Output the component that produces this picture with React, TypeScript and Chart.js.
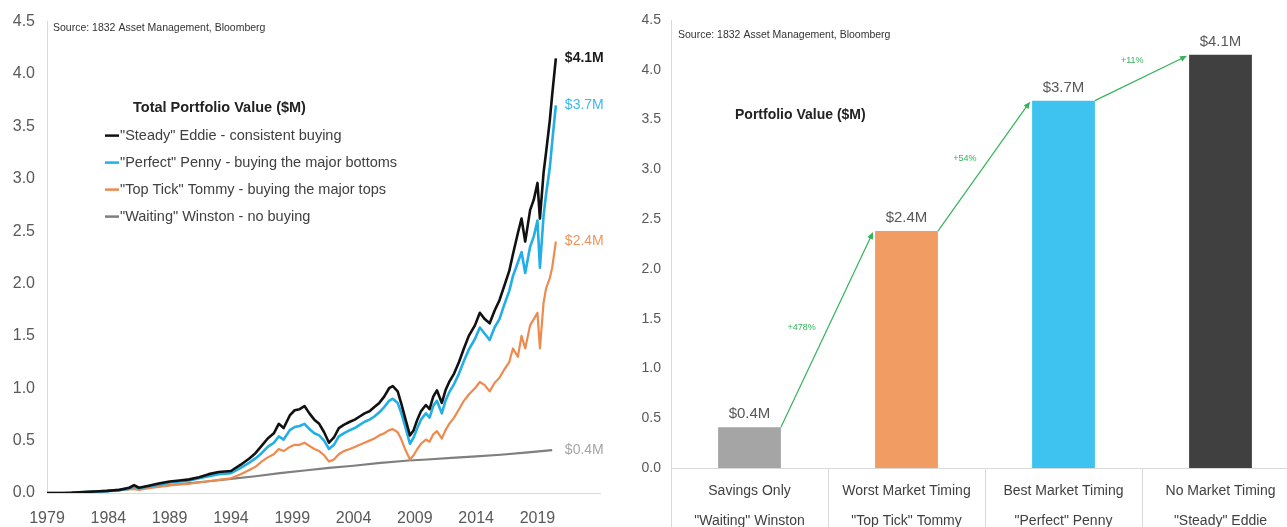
import React, { useEffect, useRef } from 'react';
import { Chart, registerables } from 'chart.js';

Chart.register(...registerables);

const FONT = '"Liberation Sans", Arial, sans-serif';

// ---------- Left chart data ----------
const years = [
  1979.0, 1980.0, 1981.0, 1981.9, 1982.9, 1983.9, 1984.9, 1985.7, 1986.1, 1986.5,
  1987.3, 1988.1, 1989.0, 1989.8, 1990.6, 1991.4, 1992.2, 1993.0, 1994.0, 1994.8,
  1995.5, 1996.0, 1996.5, 1997.0, 1997.5, 1997.9, 1998.3, 1998.8, 1999.2, 1999.6,
  2000.0, 2000.4, 2000.8, 2001.2, 2001.6, 2002.0, 2002.4, 2002.8, 2003.2, 2003.7,
  2004.1, 2004.5, 2004.9, 2005.3, 2005.7, 2006.1, 2006.5, 2006.9, 2007.2, 2007.6,
  2007.9, 2008.2, 2008.6, 2008.9, 2009.2, 2009.5, 2009.9, 2010.2, 2010.5, 2010.8,
  2011.2, 2011.5, 2011.8, 2012.2, 2012.6, 2013.0, 2013.4, 2013.9, 2014.3, 2014.7,
  2015.1, 2015.5, 2015.9, 2016.3, 2016.7, 2017.0, 2017.4, 2017.7, 2018.0, 2018.4,
  2018.7, 2019.0, 2019.2, 2019.5, 2019.7, 2020.0, 2020.2, 2020.5,
];

const eddie = [
  0, 0, 0.002, 0.008, 0.014, 0.02, 0.03, 0.05, 0.075, 0.05,
  0.07, 0.09, 0.11, 0.12, 0.13, 0.15, 0.18, 0.2, 0.21, 0.27,
  0.33, 0.38, 0.45, 0.52, 0.57, 0.66, 0.62, 0.74, 0.79, 0.8,
  0.83, 0.76, 0.7, 0.66, 0.58, 0.48, 0.53, 0.62, 0.65, 0.68,
  0.7, 0.73, 0.76, 0.78, 0.82, 0.86, 0.92, 1.0, 1.02, 0.97,
  0.85, 0.72, 0.55, 0.6, 0.7, 0.78, 0.84, 0.8, 0.92, 0.98,
  0.86, 0.98, 1.06, 1.14, 1.25, 1.38, 1.5, 1.6, 1.72, 1.66,
  1.62, 1.74, 1.84, 1.98, 2.12, 2.28, 2.48, 2.62, 2.4, 2.7,
  2.8, 2.96, 2.62, 3.06, 3.25, 3.55, 3.8, 4.15,
];

const penny = [
  0, 0, 0.002, 0.007, 0.012, 0.017, 0.026, 0.042, 0.062, 0.045,
  0.062, 0.08, 0.1, 0.11, 0.12, 0.14, 0.16, 0.18, 0.19, 0.24,
  0.29, 0.33, 0.38, 0.44, 0.48, 0.54, 0.51, 0.6, 0.63, 0.64,
  0.66, 0.61, 0.57, 0.55, 0.5, 0.42, 0.46, 0.54, 0.57, 0.6,
  0.62, 0.65, 0.68, 0.7, 0.73, 0.77, 0.82, 0.88, 0.9, 0.86,
  0.76, 0.64, 0.47, 0.53, 0.62, 0.7, 0.76, 0.72, 0.83, 0.88,
  0.76, 0.88, 0.96, 1.04, 1.14, 1.26, 1.37, 1.47, 1.58, 1.52,
  1.46, 1.58, 1.66, 1.8, 1.93, 2.07, 2.2, 2.3, 2.1, 2.35,
  2.45, 2.6, 2.15, 2.65, 2.85, 3.1, 3.35, 3.7,
];

const tommy = [
  0, 0, 0.002, 0.006, 0.012, 0.018, 0.026, 0.034, 0.04, 0.03,
  0.045, 0.058, 0.072, 0.082, 0.088, 0.1, 0.112, 0.125, 0.14, 0.18,
  0.22, 0.25, 0.3, 0.34, 0.37, 0.42, 0.4, 0.44, 0.46, 0.46,
  0.48, 0.45, 0.42, 0.4, 0.36, 0.3, 0.32, 0.37, 0.4, 0.42,
  0.44, 0.46, 0.48, 0.5, 0.52, 0.55, 0.57, 0.6, 0.61, 0.58,
  0.51, 0.42, 0.32, 0.36, 0.42, 0.47, 0.51, 0.49, 0.56, 0.59,
  0.52, 0.6, 0.66, 0.72, 0.8, 0.88, 0.94, 1.0, 1.06, 1.03,
  0.97, 1.05, 1.1, 1.18, 1.25, 1.38, 1.3, 1.5, 1.38, 1.6,
  1.66, 1.72, 1.38, 1.82, 1.95, 2.05, 2.15, 2.4,
];

const winstonYears = [
  1979, 1980.5, 1982, 1984, 1986, 1988, 1990, 1992, 1994, 1996, 1998,
  2000, 2002, 2004, 2006, 2008.5, 2010, 2012, 2014, 2016, 2018, 2020.2,
];
const winston = [
  0, 0.001, 0.008, 0.024, 0.043, 0.064, 0.087, 0.11, 0.135, 0.16, 0.19,
  0.215, 0.24, 0.26, 0.285, 0.31, 0.32, 0.335, 0.35, 0.365, 0.385, 0.41,
];

const seriesNames = [
  '"Steady" Eddie - consistent buying',
  '"Perfect" Penny - buying the major bottoms',
  '"Top Tick" Tommy - buying the major tops',
  '"Waiting" Winston - no buying',
];
const seriesColors = ['#111111', '#22aee6', '#ee8a4e', '#7f7f7f'];
const endLabels = ['$4.1M', '$3.7M', '$2.4M', '$0.4M'];
const endLabelColors = ['#1a1a1a', '#3bb8ee', '#f0955c', '#a6a6a6'];
const xTickYears = [1979, 1984, 1989, 1994, 1999, 2004, 2009, 2014, 2019];
const yTickValues = [0, 0.5, 1, 1.5, 2, 2.5, 3, 3.5, 4, 4.5];
const legendTitle = 'Total Portfolio Value ($M)';
const sourceText = 'Source: 1832 Asset Management, Bloomberg';

// ---------- Right chart data ----------
const barCategories = [
  ['Savings Only', '"Waiting" Winston'],
  ['Worst Market Timing', '"Top Tick" Tommy'],
  ['Best Market Timing', '"Perfect" Penny'],
  ['No Market Timing', '"Steady" Eddie'],
];
const barValues = [0.41, 2.38, 3.69, 4.15];
const barColors = ['#a5a5a5', '#f09c62', '#3ec2f0', '#404040'];
const barLabels = ['$0.4M', '$2.4M', '$3.7M', '$4.1M'];
const changeLabels = ['+478%', '+54%', '+11%'];
const barTitle = 'Portfolio Value ($M)';

const toPoints = (xs: number[], ys: number[]) => xs.map((x, i) => ({ x, y: ys[i] }));

const leftDecor = {
  id: 'leftDecor',
  afterDatasetsDraw(chart: any) {
    const { ctx, chartArea, scales } = chart;
    const xs = scales.x;
    const ys = scales.y;
    ctx.save();
    ctx.textBaseline = 'middle';
    ctx.textAlign = 'left';
    ctx.font = `10.5px ${FONT}`;
    ctx.fillStyle = '#333333';
    ctx.fillText(sourceText, chartArea.left + 6, chartArea.top + 7);

    ctx.font = `bold 14.5px ${FONT}`;
    ctx.fillStyle = '#222222';
    ctx.fillText(legendTitle, chartArea.left + 86, chartArea.top + 86);

    ctx.font = `14.5px ${FONT}`;
    seriesNames.forEach((name, i) => {
      const yy = chartArea.top + 114 + i * 27;
      ctx.strokeStyle = seriesColors[i];
      ctx.lineWidth = 2.5;
      ctx.beginPath();
      ctx.moveTo(chartArea.left + 58, yy);
      ctx.lineTo(chartArea.left + 72, yy);
      ctx.stroke();
      ctx.fillStyle = '#404040';
      ctx.fillText(name, chartArea.left + 73, yy);
    });

    const lastX = xs.getPixelForValue(years[years.length - 1]) + 9;
    const lastVals = [eddie[eddie.length - 1], penny[penny.length - 1], tommy[tommy.length - 1], winston[winston.length - 1]];
    lastVals.forEach((v, i) => {
      ctx.font = i === 0 ? `bold 14px ${FONT}` : `14px ${FONT}`;
      ctx.fillStyle = endLabelColors[i];
      ctx.fillText(endLabels[i], lastX, ys.getPixelForValue(v));
    });
    ctx.restore();
  },
};

const rightDecor = {
  id: 'rightDecor',
  afterDatasetsDraw(chart: any) {
    const { ctx, chartArea } = chart;
    const bars = chart.getDatasetMeta(0).data;
    ctx.save();
    ctx.textBaseline = 'middle';
    ctx.textAlign = 'left';
    ctx.font = `10.5px ${FONT}`;
    ctx.fillStyle = '#333333';
    ctx.fillText(sourceText, chartArea.left + 7, chartArea.top + 15);

    ctx.font = `bold 14px ${FONT}`;
    ctx.fillStyle = '#222222';
    ctx.fillText(barTitle, chartArea.left + 64, chartArea.top + 95);

    ctx.textAlign = 'center';
    ctx.font = `15px ${FONT}`;
    ctx.fillStyle = '#595959';
    bars.forEach((b: any, i: number) => {
      ctx.fillText(barLabels[i], b.x, b.y - 13);
    });

    const green = '#34b35a';
    const along = [0.46, 0.47, 0.5];
    const away = [24, 20, 20];
    for (let i = 0; i < bars.length - 1; i++) {
      const a = bars[i];
      const c = bars[i + 1];
      const x1 = a.x + a.width / 2;
      const y1 = a.y;
      const x2 = c.x - c.width / 2 - 2;
      const y2 = c.y + 1;
      const dx = x2 - x1;
      const dy = y2 - y1;
      const len = Math.hypot(dx, dy);
      const ux = dx / len;
      const uy = dy / len;
      ctx.strokeStyle = green;
      ctx.fillStyle = green;
      ctx.lineWidth = 1.2;
      ctx.beginPath();
      ctx.moveTo(x1, y1);
      ctx.lineTo(x2 - ux * 5, y2 - uy * 5);
      ctx.stroke();
      const hl = 7;
      const hw = 3;
      ctx.beginPath();
      ctx.moveTo(x2, y2);
      ctx.lineTo(x2 - ux * hl - uy * hw, y2 - uy * hl + ux * hw);
      ctx.lineTo(x2 - ux * hl + uy * hw, y2 - uy * hl - ux * hw);
      ctx.closePath();
      ctx.fill();
      const mx = x1 + dx * along[i];
      const my = y1 + dy * along[i];
      const nx = uy;
      const ny = -ux;
      ctx.font = `9px ${FONT}`;
      ctx.fillText(changeLabels[i], mx + nx * away[i], my + ny * away[i]);
    }
    ctx.restore();
  },
};

export default function App() {
  const leftRef = useRef<HTMLCanvasElement>(null);
  const rightRef = useRef<HTMLCanvasElement>(null);

  useEffect(() => {
    const left = new Chart(leftRef.current as HTMLCanvasElement, {
      type: 'line',
      data: {
        datasets: [
          { label: seriesNames[0], data: toPoints(years, eddie), borderColor: seriesColors[0], borderWidth: 2.6 },
          { label: seriesNames[1], data: toPoints(years, penny), borderColor: seriesColors[1], borderWidth: 2.6 },
          { label: seriesNames[2], data: toPoints(years, tommy), borderColor: seriesColors[2], borderWidth: 2.2 },
          { label: seriesNames[3], data: toPoints(winstonYears, winston), borderColor: seriesColors[3], borderWidth: 2.2 },
        ],
      },
      options: {
        responsive: false,
        animation: false,
        events: [],
        layout: { padding: { top: 20, right: 40, left: 0, bottom: 0 } },
        elements: { point: { radius: 0 }, line: { tension: 0, borderJoinStyle: 'round' } },
        plugins: { legend: { display: false }, tooltip: { enabled: false } },
        scales: {
          x: {
            type: 'linear',
            min: 1979,
            max: 2024.1,
            afterBuildTicks: (s: any) => { s.ticks = xTickYears.map((v) => ({ value: v })); },
            afterFit: (s: any) => { s.height = 34; },
            grid: { display: false, drawTicks: false },
            border: { display: true, color: '#d9d9d9', width: 1 },
            ticks: { font: { family: FONT, size: 16 }, color: '#595959', padding: 16, callback: (v: any) => String(v), maxRotation: 0 },
          },
          y: {
            type: 'linear',
            min: 0,
            max: 4.5,
            afterBuildTicks: (s: any) => { s.ticks = yTickValues.map((v) => ({ value: v })); },
            afterFit: (s: any) => { s.width = 47; },
            grid: { display: false, drawTicks: false },
            border: { display: true, color: '#d9d9d9', width: 1 },
            ticks: { font: { family: FONT, size: 16 }, color: '#595959', padding: 12, callback: (v: any) => Number(v).toFixed(1) },
          },
        },
      },
      plugins: [leftDecor],
    } as any);

    const right = new Chart(rightRef.current as HTMLCanvasElement, {
      type: 'bar',
      data: {
        labels: barCategories,
        datasets: [
          { data: barValues, backgroundColor: barColors, categoryPercentage: 1, barPercentage: 0.4 },
        ],
      },
      options: {
        responsive: false,
        animation: false,
        events: [],
        layout: { padding: { top: 20, right: 11, left: 0, bottom: 0 } },
        plugins: { legend: { display: false }, tooltip: { enabled: false } },
        scales: {
          x: {
            type: 'category',
            afterFit: (s: any) => { s.height = 59; },
            grid: { display: true, drawOnChartArea: false, drawTicks: true, tickLength: 59, color: '#d9d9d9', offset: true },
            border: { display: true, color: '#d9d9d9', width: 1 },
            ticks: { font: { family: FONT, size: 14, lineHeight: 30 / 14 }, color: '#404040', padding: -51, maxRotation: 0, autoSkip: false },
          },
          y: {
            type: 'linear',
            min: 0,
            max: 4.5,
            afterBuildTicks: (s: any) => { s.ticks = yTickValues.map((v) => ({ value: v })); },
            afterFit: (s: any) => { s.width = 41; },
            grid: { display: false, drawTicks: false },
            border: { display: true, color: '#d9d9d9', width: 1 },
            ticks: { font: { family: FONT, size: 14 }, color: '#595959', padding: 10, callback: (v: any) => Number(v).toFixed(1) },
          },
        },
      },
      plugins: [rightDecor],
    } as any);

    return () => {
      left.destroy();
      right.destroy();
    };
  }, []);

  return (
    <div style={{ position: 'absolute', left: 0, top: 0, width: 1287, height: 527, overflow: 'hidden', background: '#ffffff' }}>
      <canvas ref={leftRef} width={640} height={527} style={{ position: 'absolute', left: 0, top: 0 }} />
      <canvas ref={rightRef} width={680} height={527} style={{ position: 'absolute', left: 630, top: 0 }} />
    </div>
  );
}
